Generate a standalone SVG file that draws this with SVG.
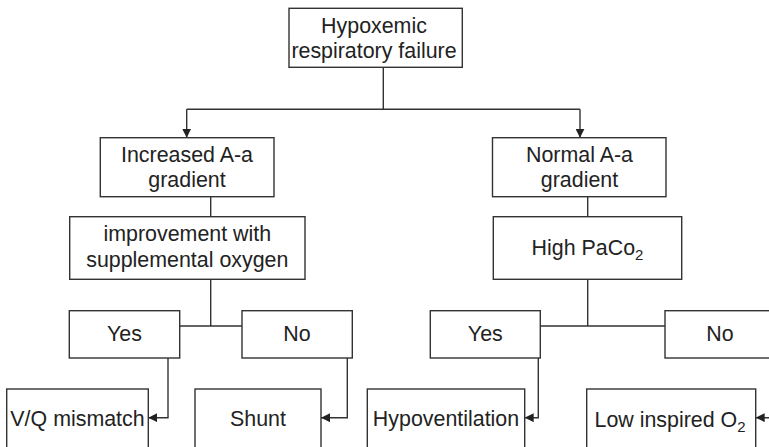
<svg xmlns="http://www.w3.org/2000/svg" width="769" height="447" viewBox="0 0 769 447">
<style>
.box{fill:#fff;stroke:#333;stroke-width:1.4}
.t{font-family:"Liberation Sans",Arial,sans-serif;font-size:21.4px;fill:#222;text-anchor:middle}
.c{fill:none;stroke:#333;stroke-width:1.4}
</style>
<defs>
<marker id="ah" viewBox="0 0 10 10" refX="10" refY="5" markerWidth="9" markerHeight="9" markerUnits="userSpaceOnUse" orient="auto">
<path d="M0,0 L10,5 L0,10 z" fill="#222"/>
</marker>
</defs>
<g id="connectors">
<path class="c" d="M383.3,67.3 V109.3 M186.7,109.3 H580"/>
<path class="c" d="M186.7,109.3 V137.7" marker-end="url(#ah)"/>
<path class="c" d="M580,109.3 V137.7" marker-end="url(#ah)"/>
<path class="c" d="M210.7,196.7 V216.7 M210.7,279.3 V326 M179.7,326 H242"/>
<path class="c" d="M587.7,196.7 V216.7 M587.7,279.3 V326 M540.3,326 H665"/>
<path class="c" d="M168,358 V417.7 H148.3" marker-end="url(#ah)"/>
<path class="c" d="M347.3,358 V417.7 H321" marker-end="url(#ah)"/>
<path class="c" d="M538.3,358 V417.7 H524.7" marker-end="url(#ah)"/>
<path class="c" d="M770,358 V417.7 H755.7" marker-end="url(#ah)"/>
</g>
<g id="n-hypoxemic">
<rect class="box" x="289" y="8.3" width="173.3" height="59"/>
<text class="t" x="374" y="32.5">Hypoxemic</text>
<text class="t" x="374" y="57.5">respiratory failure</text>
</g>
<g id="n-increased">
<rect class="box" x="100.3" y="137.7" width="173.7" height="59"/>
<text class="t" x="187" y="162.3">Increased A-a</text>
<text class="t" x="187" y="186.7">gradient</text>
</g>
<g id="n-normal">
<rect class="box" x="492.5" y="137.7" width="173.5" height="59"/>
<text class="t" x="579.5" y="162.3">Normal A-a</text>
<text class="t" x="579.5" y="186.7">gradient</text>
</g>
<g id="n-improvement">
<rect class="box" x="69.7" y="216.7" width="235.3" height="62.6"/>
<text class="t" x="187.3" y="241">improvement with</text>
<text class="t" x="187.3" y="266.7">supplemental oxygen</text>
</g>
<g id="n-highpaco2">
<rect class="box" x="493.3" y="216.7" width="188.4" height="62.6"/>
<text class="t" x="587.5" y="255">High PaCo<tspan font-size="15" dy="5">2</tspan></text>
</g>
<g id="n-yes-left">
<rect class="box" x="69.3" y="310.7" width="110.4" height="47.3"/>
<text class="t" x="124.5" y="340.7">Yes</text>
</g>
<g id="n-no-left">
<rect class="box" x="242" y="310.7" width="110.3" height="47.3"/>
<text class="t" x="297" y="340.7">No</text>
</g>
<g id="n-yes-right">
<rect class="box" x="430.3" y="310.7" width="110" height="47.3"/>
<text class="t" x="485.3" y="340.7">Yes</text>
</g>
<g id="n-no-right">
<rect class="box" x="665" y="310.7" width="110" height="47.3"/>
<text class="t" x="720" y="340.7">No</text>
</g>
<g id="n-vq">
<rect class="box" x="6.7" y="389" width="141.6" height="70"/>
<text class="t" x="77.5" y="426">V/Q mismatch</text>
</g>
<g id="n-shunt">
<rect class="box" x="195" y="389" width="126" height="70"/>
<text class="t" x="258" y="426">Shunt</text>
</g>
<g id="n-hypovent">
<rect class="box" x="367.3" y="389" width="157.4" height="70"/>
<text class="t" x="446" y="426">Hypoventilation</text>
</g>
<g id="n-lowo2">
<rect class="box" x="586.7" y="389" width="169" height="70"/>
<text class="t" x="670" y="426.5">Low inspired O<tspan font-size="15" dy="5">2</tspan></text>
</g>
</svg>
